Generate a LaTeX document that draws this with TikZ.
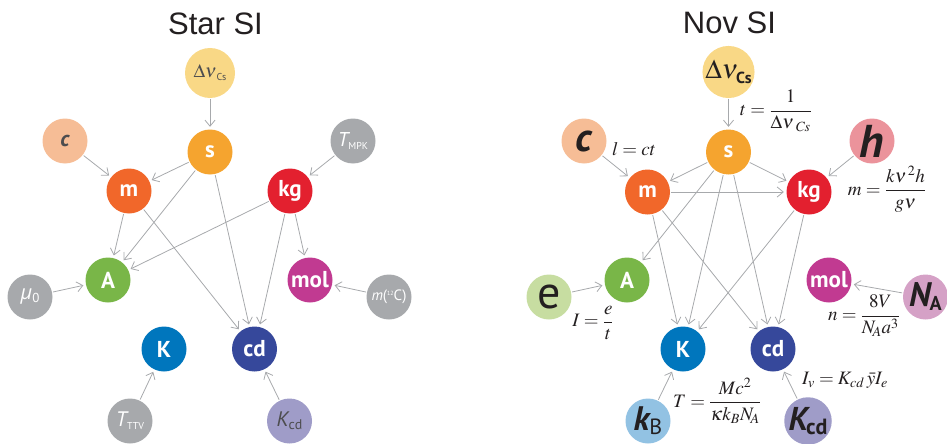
\documentclass[tikz,border=0pt]{standalone}
\usepackage{mathptmx}
\usepackage[no-math]{fontspec}
\usetikzlibrary{arrows.meta}
\newfontfamily\titlef{Liberation Sans}
\newfontfamily\nodef{PT Sans}
\newfontfamily\grf{Open Sans}
\definecolor{fgray}{HTML}{A7A9AC}
\definecolor{dnu}{HTML}{F9D886}
\definecolor{sorange}{HTML}{F5A42F}
\definecolor{cpeach}{HTML}{F6BD96}
\definecolor{morange}{HTML}{F1672A}
\definecolor{kgred}{HTML}{E3202F}
\definecolor{agreen}{HTML}{79B648}
\definecolor{molmag}{HTML}{C13A91}
\definecolor{kblue}{HTML}{0076BD}
\definecolor{cdnavy}{HTML}{36489B}
\definecolor{kcdlav}{HTML}{9F9CC8}
\definecolor{hpink}{HTML}{EB939B}
\definecolor{egreen}{HTML}{C7DDA1}
\definecolor{napink}{HTML}{D5A1C6}
\definecolor{kbblue}{HTML}{92C2E3}
\definecolor{arrowgray}{HTML}{A7A9AC}
\definecolor{textdark}{HTML}{231F20}
\definecolor{labelgray}{HTML}{4D4D4F}
\newcommand{\fs}[1]{\fontsize{#1}{#1}\selectfont}
\tikzset{
  nd/.style={circle,minimum size=45pt,inner sep=0pt,text=white,
    font=\nodef\bfseries\fs{23}},
  conn/.style={draw=arrowgray,line width=0.8pt,
    -{Straight Barb[length=6pt,width=10pt,line width=0.8pt]},
    shorten >=2.5pt,shorten <=1pt},
  eq/.style={inner sep=0pt,text=textdark,font=\fs{19}},
  ttl/.style={inner sep=0pt,text=textdark,font=\titlef\fs{31}}
}
\begin{document}
\begin{tikzpicture}[x=1pt,y=-1pt]
\useasboundingbox (0,0) rectangle (947,444);
% ---------------- Star SI ----------------
\node[ttl] (T1) at (215.5,23.5) {Star SI};
\node[nd,fill=dnu,minimum size=50pt,text=labelgray] (Ldnu) at (210,73)
  {{\fs{19}$\Delta\nu$}\raisebox{-3pt}{\mdseries\fs{10}Cs}};
\node[nd,fill=sorange] (Ls) at (210,152) {s};
\node[nd,fill=cpeach,text=labelgray] (Lc) at (65,141) {\itshape\fs{22}c};
\node[nd,fill=morange] (Lm) at (129,191) {m};
\node[nd,fill=kgred] (Lkg) at (290,191) {kg};
\node[nd,fill=fgray] (Ltm) at (353,141)
  {{\mdseries\itshape\fs{20}T}\raisebox{-3pt}{\mdseries\fs{10}MPK}};
\node[nd,fill=agreen] (LA) at (108,280) {A};
\node[nd,fill=fgray] (Lmu) at (30,297)
  {{\grf\mdseries\itshape\fs{20}μ}\raisebox{-3pt}{\mdseries\fs{13}0}};
\node[nd,fill=molmag] (Lmol) at (310,280) {mol};
\node[nd,fill=fgray] (Lmc) at (389,297)
  {\mdseries\fs{15}{\itshape m}(\raisebox{5pt}{\fs{6}12}C)};
\node[nd,fill=kblue] (LK) at (164,349) {K};
\node[nd,fill=cdnavy] (Lcd) at (254.5,349) {cd};
\node[nd,fill=fgray] (Ltt) at (130,421)
  {{\mdseries\itshape\fs{21}T}\raisebox{-3pt}{\mdseries\fs{10}TTV}};
\node[nd,fill=kcdlav,text=labelgray] (Lkcd) at (289.5,421)
  {{\mdseries\itshape\fs{21}K}\raisebox{-3pt}{\mdseries\fs{14}cd}};
\draw[conn] (Ldnu) -- (Ls);
\draw[conn] (Lc) -- (Lm);
\draw[conn] (Ltm) -- (Lkg);
\draw[conn] (Ls) -- (Lm);
\draw[conn] (Ls) -- (LA);
\draw[conn] (Ls) -- (Lcd);
\draw[conn] (Lm) -- (LA);
\draw[conn] (Lm) -- (Lcd);
\draw[conn] (Lkg) -- (LA);
\draw[conn] (Lkg) -- (Lcd);
\draw[conn] (Lkg) -- (Lmol);
\draw[conn] (Lmu) -- (LA);
\draw[conn] (Lmc) -- (Lmol);
\draw[conn] (Ltt) -- (LK);
\draw[conn] (Lkcd) -- (Lcd);
% ---------------- Nov SI ----------------
\node[ttl] (T2) at (729.5,22.5) {Nov SI};
\node[nd,fill=dnu,minimum size=50pt,text=textdark] (Rdnu) at (728.5,72)
  {{\fs{27}$\Delta\nu$}\hspace{-2pt}\raisebox{-5pt}{\fs{16}Cs}};
\node[nd,fill=sorange] (Rs) at (728.5,152) {s};
\node[nd,fill=cpeach,text=textdark] (Rc) at (584,141) {\itshape\fs{40}c};
\node[nd,fill=morange] (Rm) at (647.5,192) {m};
\node[nd,fill=kgred] (Rkg) at (809,192) {kg};
\node[nd,fill=hpink,text=textdark] (Rh) at (872,141) {\itshape\fs{46}h};
\node[nd,fill=agreen] (RA) at (627,280) {A};
\node[nd,fill=egreen,text=textdark] (Re) at (549,297) {\mdseries\fs{46}e};
\node[nd,fill=molmag] (Rmol) at (829,280) {mol};
\node[nd,fill=napink,text=textdark] (RNA) at (925.5,297)
  {{\itshape\fs{34}N}\hspace{-1pt}\raisebox{-4pt}{\fs{20}A}};
\node[nd,fill=kblue] (RK) at (683,349) {K};
\node[nd,fill=cdnavy] (Rcd) at (773,349) {cd};
\node[nd,fill=kbblue,text=textdark] (RkB) at (648,421)
  {{\itshape\fs{34}k}\raisebox{-4pt}{\mdseries\fs{22}B}};
\node[nd,fill=kcdlav,text=textdark] (Rkcd) at (808,421)
  {{\itshape\fs{33}K}\hspace{-2pt}\raisebox{-4pt}{\fs{22}cd}};
\draw[conn] (Rdnu) -- (Rs);
\draw[conn] (Rc) -- (Rm);
\draw[conn] (Rh) -- (Rkg);
\draw[conn] (Rs) -- (Rm);
\draw[conn] (Rs) -- (Rkg);
\draw[conn] (Rm) -- (Rkg);
\draw[conn] (Rs) -- (RA);
\draw[conn] (Rs) -- (RK);
\draw[conn] (Rs) -- (Rcd);
\draw[conn] (Rm) -- (RK);
\draw[conn] (Rm) -- (Rcd);
\draw[conn] (Rkg) -- (RK);
\draw[conn] (Rkg) -- (Rcd);
\draw[conn] (Re) -- (RA);
\draw[conn] (RNA) -- (Rmol);
\draw[conn] (RkB) -- (RK);
\draw[conn] (Rkcd) -- (Rcd);
% equations
\node[eq] (E1) at (776,111) {$\displaystyle t=\frac{1}{\Delta\nu_{\;\mathit{Cs}}}$};
\node[eq] (E2) at (634,149) {$l=ct$};
\node[eq] (E3) at (887,189) {$\displaystyle m=\frac{k\nu^{\,2}h}{g\nu}$};
\node[eq] (E4) at (593,323) {$\displaystyle I=\frac{e}{t}$};
\node[eq] (E5) at (864,316) {$\displaystyle n=\frac{8V}{N_{\!A}a^{3}}$};
\node[eq] (E6) at (717,401) {$\displaystyle T=\frac{Mc^{2}}{\kappa k_{B}N_{\!A}}$};
\node[eq] (E7) at (845,380) {$I_{v}=K_{cd}\,\bar{y}I_{e}$};
\end{tikzpicture}
\end{document}
